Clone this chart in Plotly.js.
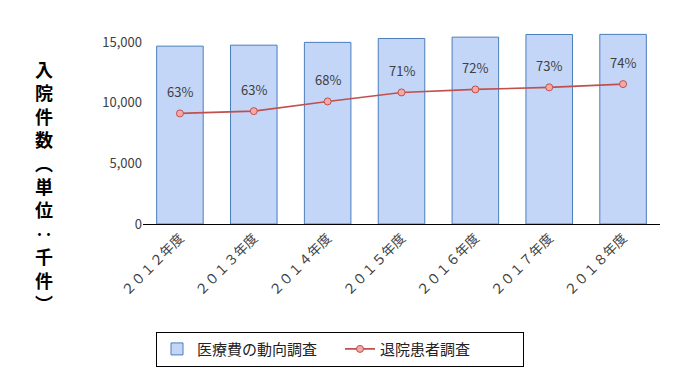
<!DOCTYPE html>
<html><head><meta charset="utf-8">
<script src="https://cdn.plot.ly/plotly-3.0.1.min.js"></script>
<style>body{margin:0;background:#fff}#c{width:680px;height:378px}</style>
</head><body><div id="c"></div>
<script>
const categories = ["２０１２年度","２０１３年度","２０１４年度","２０１５年度","２０１６年度","２０１７年度","２０１８年度"];
const medicalCost = [14670, 14750, 14980, 15300, 15410, 15630, 15640];
const dischargeSurvey = [9120, 9310, 10110, 10850, 11100, 11270, 11540];
const ratioLabels = ["63%","63%","68%","71%","72%","73%","74%"];
const yTicks = [0, 5000, 10000, 15000];
const yTickText = ["0","5,000","10,000","15,000"];
const yTitleChars = ["入","院","件","数","︵","単","位","‥","千","件","︶"];
const seriesNames = ["医療費の動向調査","退院患者調査"];

const FONT = "'Noto Sans CJK JP', 'Noto Sans', sans-serif";

const traces = [
  {type:"bar", name:seriesNames[0], x:categories, y:medicalCost,
   marker:{color:"#c3d6f7", line:{color:"#4a7ebb", width:1}}, hoverinfo:"skip"},
  {type:"scatter", mode:"lines+markers", name:seriesNames[1], x:categories, y:dischargeSurvey,
   line:{color:"#c0504d", width:1.6},
   marker:{symbol:"circle", size:7, color:"#f5a9a7", line:{color:"#c0504d", width:1}}, hoverinfo:"skip"}
];

const annotations = categories.map((c,i)=>({
  x:c, y:dischargeSurvey[i], xref:"x", yref:"y", text:ratioLabels[i], showarrow:false,
  yshift:22, font:{family:FONT, size:13, color:"#404040"}
}));
annotations.push({xref:"paper", yref:"paper", x:-0.1915, xanchor:"center",
  y:0.196, yanchor:"middle", text:yTitleChars.join("<br>"), showarrow:false,
  font:{family:FONT, size:18, color:"#000", weight:"bold"}});

const layout = {
  width:680, height:378,
  margin:{l:143, r:20, t:30, b:154},
  paper_bgcolor:"#fff", plot_bgcolor:"#fff",
  font:{family:FONT, color:"#404040"},
  bargap:0.37,
  showlegend:true,
  legend:{orientation:"h", xref:"container", yref:"container", x:0.5, xanchor:"center",
    y:0.03, yanchor:"bottom", bordercolor:"#000", borderwidth:1,
    font:{family:FONT, size:15, color:"#222"}, itemwidth:30, entrywidth:138, tracegroupgap:0},
  xaxis:{type:"category", tickangle:-45, showline:true, linecolor:"#000", linewidth:1,
    ticks:"", showgrid:false, tickfont:{family:FONT, size:13.5, color:"#404040"}},
  yaxis:{range:[0,16000], tickvals:yTicks, ticktext:yTickText, showgrid:false, zeroline:false,
    showline:false, ticks:"", tickfont:{family:FONT, size:13, color:"#404040"}},
  annotations:annotations
};
Plotly.newPlot("c", traces, layout, {displayModeBar:false, staticPlot:true});
</script></body></html>
